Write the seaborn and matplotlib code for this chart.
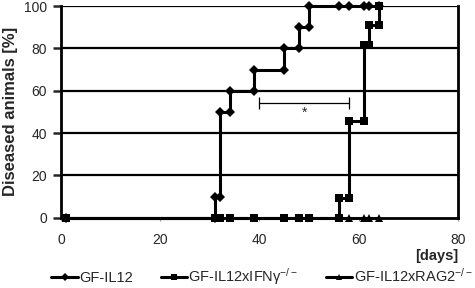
import numpy as np
import pandas as pd
import matplotlib
matplotlib.use("Agg")
import matplotlib.pyplot as plt
import seaborn as sns

# dias y porcentaje de animales enfermos
dias_il12 = [1, 31, 31, 32, 32, 34, 34, 39, 39, 45, 45, 48, 48, 50, 50, 56, 58, 61, 62, 64]
pct_il12 = [0, 0, 10, 10, 50, 50, 60, 60, 70, 70, 80, 80, 90, 90, 100, 100, 100, 100, 100, 100]

dias_ifng = [1, 31, 32, 34, 39, 45, 48, 50, 56, 56, 58, 58, 61, 61, 62, 62, 64, 64]
pct_ifng = [0, 0, 0, 0, 0, 0, 0, 0, 0, 9.1, 9.1, 45.5, 45.5, 81.8, 81.8, 90.9, 90.9, 100]

dias_rag2 = [1, 58, 61, 62, 64]
pct_rag2 = [0, 0, 0, 0, 0]

nombres = ['GF-IL12', 'GF-IL12xIFNγ$^{-/-}$', 'GF-IL12xRAG2$^{-/-}$']
marcadores = ['D', 's', '^']

x_ticks = [0, 20, 40, 60, 80]
y_ticks = [0, 20, 40, 60, 80, 100]

sns.set_style("white")
plt.rcParams['font.family'] = ['Liberation Sans', 'DejaVu Sans']
plt.rcParams['mathtext.fontset'] = 'custom'
plt.rcParams['mathtext.rm'] = 'Liberation Sans'
plt.rcParams['mathtext.it'] = 'Liberation Sans'

fig = plt.figure(figsize=(4.75, 2.88), dpi=100)
ax = fig.add_axes([0.1284, 0.244, 0.8356, 0.735])

series = [(dias_il12, pct_il12), (dias_ifng, pct_ifng), (dias_rag2, pct_rag2)]
tam = [5, 5.5, 5.5]
for (d, p), nom, m, s in zip(series, nombres, marcadores, tam):
    df = pd.DataFrame({'dia': d, 'pct': p})
    sns.lineplot(data=df, x='dia', y='pct', sort=False, estimator=None, ax=ax,
                 color='black', lw=2.2, marker=m, markersize=s, markeredgewidth=0,
                 label=nom, clip_on=False, zorder=5)

# lineas horizontales
for y in y_ticks[1:]:
    ax.axhline(y, color='black', lw=1.6, zorder=1)

# corchete de significancia
ax.plot([40, 58], [54, 54], color='black', lw=0.9, marker='|', markersize=9, mew=0.9)
ax.text(49, 49.5, '*', ha='center', va='center', fontsize=10)

ax.set_xlim(0, 80)
ax.set_ylim(0, 100)
ax.set_xticks(x_ticks)
ax.set_yticks(y_ticks)
ax.tick_params(axis='y', length=6, width=1.8, direction='out', pad=4, labelsize=10, left=True)
ax.tick_params(axis='x', length=2, width=0.8, color='#999999', direction='out', pad=9,
               labelsize=10, bottom=True)
for lado in ['left', 'right', 'bottom']:
    ax.spines[lado].set_linewidth(2)
    ax.spines[lado].set_color('black')
ax.spines['top'].set_visible(False)

ax.set_xlabel('')
ax.set_ylabel('Diseased animals [%]', fontsize=12, fontweight='bold', labelpad=4)
fig.text(0.964, 1 - 256 / 288, '[days]', ha='right', va='center', fontsize=10.5, fontweight='bold')

ax.get_legend().remove()
h, l = ax.get_legend_handles_labels()
fig.legend(h, l, loc='center right', bbox_to_anchor=(0.995, 1 - 277 / 288), ncol=3, frameon=False,
           fontsize=10.5, handlelength=1.8, handletextpad=0.1, columnspacing=1.9,
           borderaxespad=0, borderpad=0, markerscale=0.9)

fig.savefig('out.png', dpi=100)
